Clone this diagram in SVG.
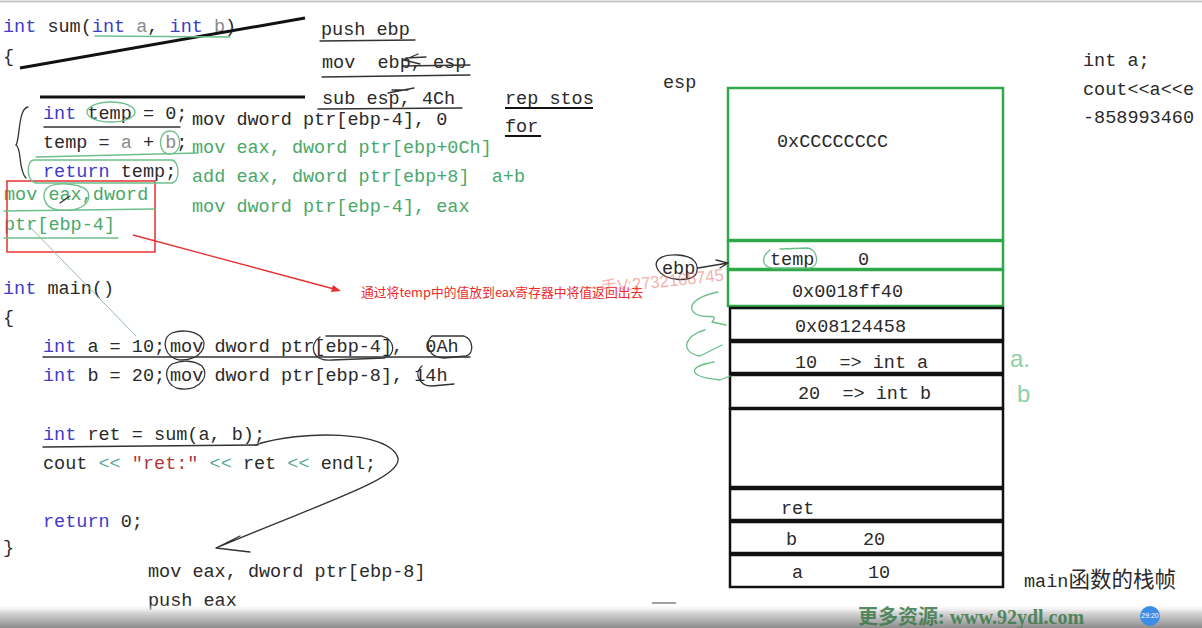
<svg xmlns="http://www.w3.org/2000/svg" width="1202" height="628" viewBox="0 0 1202 628" xml:space="preserve">
<defs>
<style>
text{white-space:pre}
.code{font-family:"Liberation Mono","DejaVu Sans Mono",monospace;font-size:18.5px;fill:#2a2a2a}
.kw{fill:#3c3cc8}
.gr{fill:#8a8a8a}
.asm{fill:#4aa86a}
.str{fill:#b03a3a}
.op{fill:#5aa89a}
.val{font-family:"Liberation Mono","DejaVu Sans Mono",monospace;font-size:18.5px;fill:#2a2a2a}
.gbox{fill:none;stroke:#2fa84a;stroke-width:2.5}
.bbox{fill:none;stroke:#111;stroke-width:2.5}
.hand{fill:none;stroke:#333;stroke-width:1.3;stroke-linecap:round}
.hg{fill:none;stroke:#6cbf8a;stroke-width:1.3;stroke-linecap:round}
.cn{font-family:"Noto Sans CJK SC","Noto Sans",sans-serif}
</style>
<linearGradient id="bar" x1="0" y1="0" x2="0" y2="1">
<stop offset="0" stop-color="#ffffff" stop-opacity="0"/>
<stop offset="0.35" stop-color="#d8d8d8"/>
<stop offset="1" stop-color="#8c8c8c"/>
</linearGradient>
</defs>
<rect x="0" y="0" width="1202" height="628" fill="#ffffff"/>
<line x1="0" y1="1.5" x2="1202" y2="1.5" stroke="#c8c8c8" stroke-width="2"/>

<!-- sum function -->
<g id="sum-code" class="code">
<text x="3" y="32"><tspan class="kw">int</tspan> sum(<tspan class="kw">int</tspan> <tspan class="gr">a</tspan>, <tspan class="kw">int</tspan> <tspan class="gr">b</tspan>)</text>
<text x="3" y="62">{</text>
<text x="43" y="119"><tspan class="kw">int</tspan> temp = 0;</text>
<text x="43" y="148">temp = <tspan class="gr">a</tspan> + <tspan class="gr">b</tspan>;</text>
<text x="43" y="177"><tspan class="kw">return</tspan> temp;</text>
<text x="192" y="125">mov dword ptr[ebp-4], 0</text>
<text x="192" y="153" class="asm">mov eax, dword ptr[ebp+0Ch]</text>
<text x="192" y="182" class="asm">add eax, dword ptr[ebp+8]  a+b</text>
<text x="192" y="212" class="asm">mov dword ptr[ebp-4], eax</text>
<text x="4" y="200" class="asm">mov eax,dword</text>
<text x="4" y="230" class="asm">ptr[ebp-4]</text>
</g>

<!-- prologue -->
<g id="prologue" class="code">
<text x="321" y="35">push ebp</text>
<text x="322" y="68">mov  ebp, esp</text>
<text x="322" y="104">sub esp, 4Ch</text>
<text x="505" y="104">rep stos</text>
<text x="505" y="132">for</text>
</g>

<!-- main function -->
<g id="main-code" class="code">
<text x="3" y="294"><tspan class="kw">int</tspan> main()</text>
<text x="3" y="323">{</text>
<text x="43" y="352"><tspan class="kw">int</tspan> a = 10;</text>
<text x="170" y="352">mov dword ptr[ebp-4],  0Ah</text>
<text x="43" y="381"><tspan class="kw">int</tspan> b = 20;</text>
<text x="170" y="381">mov dword ptr[ebp-8], 14h</text>
<text x="43" y="440"><tspan class="kw">int</tspan> ret = sum(a, b);</text>
<text x="43" y="469">cout <tspan class="op">&lt;&lt;</tspan> <tspan class="str">"ret:"</tspan> <tspan class="op">&lt;&lt;</tspan> ret <tspan class="op">&lt;&lt;</tspan> endl;</text>
<text x="43" y="527"><tspan class="kw">return</tspan> 0;</text>
<text x="3" y="553">}</text>
<text x="148" y="577">mov eax, dword ptr[ebp-8]</text>
<text x="148" y="606">push eax</text>
</g>

<!-- side note -->
<g id="side-note" class="code">
<text x="1083" y="66">int a;</text>
<text x="1083" y="95">cout&lt;&lt;a&lt;&lt;e</text>
<text x="1083" y="123">-858993460</text>
</g>

<!-- red annotation -->
<g id="red-note">
<rect x="7" y="181" width="148" height="71" fill="none" stroke="#e83030" stroke-width="1.5"/>
<text x="361" y="297" class="cn" font-size="12.8" fill="#ee2a2a">通过将temp中的值放到eax寄存器中将值返回出去</text>
</g>

<!-- stack frame -->
<g id="stack">
<text x="663" y="88" class="val">esp</text>
<g id="cell-cccc"><rect x="728" y="88" width="275" height="152" class="gbox"/><text x="777" y="147" class="val">0xCCCCCCCC</text></g>
<g id="cell-temp"><rect x="728" y="241" width="275" height="28" class="gbox"/><text x="770" y="265" class="val asm">temp</text><text x="858" y="265" class="val asm">0</text></g>
<g id="cell-ebp"><rect x="728" y="270" width="275" height="36" class="gbox"/><text x="792" y="297" class="val">0x0018ff40</text></g>
<g id="cell-ret-addr"><rect x="730" y="308" width="273" height="32" class="bbox"/><text x="795" y="332" class="val">0x08124458</text></g>
<g id="cell-a-param"><rect x="730" y="342" width="273" height="31" class="bbox"/><text x="795" y="368" class="val">10  =&gt; int a</text></g>
<g id="cell-b-param"><rect x="730" y="375" width="273" height="33" class="bbox"/><text x="798" y="399" class="val">20  =&gt; int b</text></g>
<g id="cell-empty"><rect x="730" y="409" width="273" height="78" class="bbox"/></g>
<g id="cell-ret"><rect x="730" y="489" width="273" height="31" class="bbox"/><text x="781" y="514" class="val">ret</text></g>
<g id="cell-b"><rect x="730" y="522" width="273" height="31" class="bbox"/><text x="786" y="545" class="val">b</text><text x="863" y="545" class="val">20</text></g>
<g id="cell-a"><rect x="730" y="555" width="273" height="32" class="bbox"/><text x="792" y="578" class="val">a</text><text x="868" y="578" class="val">10</text></g>
<text x="1024" y="587" class="cn" font-size="21.5" fill="#2a2a2a"><tspan font-family="Liberation Mono,monospace" font-size="18.5">main</tspan>函数的栈帧</text>
<text x="662" y="274" class="val">ebp</text>
<text x="1010" y="367" font-family="Liberation Sans,sans-serif" font-size="24" fill="#8fd0a4">a.</text>
<text x="1017" y="402" font-family="Liberation Sans,sans-serif" font-size="24" fill="#8fd0a4">b</text>
</g>

<!-- connectors and handwriting -->
<g id="connectors">
<line x1="20" y1="68" x2="305" y2="18" stroke="#111" stroke-width="3"/>
<line x1="40" y1="97" x2="305" y2="97" stroke="#111" stroke-width="3"/>
<line x1="505" y1="108" x2="593" y2="108" stroke="#111" stroke-width="2"/>
<line x1="505" y1="136" x2="541" y2="136" stroke="#111" stroke-width="2"/>
<path class="hand" d="M320,41 L415,40 M322,77 L470,75 M318,109 L462,108 M402,66 L470,65 M418,54 L404,60 L420,64 M406,58 L426,57 M392,90 L408,90 M388,93 L414,88"/>
<path class="hg" d="M95,36 L230,37"/>
<ellipse cx="111" cy="112" rx="24" ry="10" class="hg"/>
<path class="hand" d="M44,127 L180,127" stroke="#555"/>
<path class="hg" d="M164,133 C158,140 160,152 168,154 C178,155 182,145 178,136 C175,130 168,130 164,133"/>
<path class="hg" d="M36,157 L198,153"/>
<path class="hg" d="M34,160 C26,160 26,182 36,183 L172,183 C180,182 180,162 172,160 Z"/>
<path class="hand" stroke="#777" d="M28,107 C18,108 20,140 16,145 C22,148 18,170 26,178"/>
<path class="hg" d="M50,186 C40,190 42,208 58,210 C80,212 92,204 88,192 C84,184 60,182 50,186"/>
<path class="hand" stroke="#555" d="M60,203 L70,196"/>
<path class="hg" d="M4,211 L155,209 M4,238 L118,238"/>
<path d="M28,225 L136,336" stroke="#9ab8aa" stroke-width="1" fill="none"/>
<line x1="133" y1="235" x2="334" y2="289" stroke="#e83030" stroke-width="1.3"/>
<polygon points="341,291 331,292 333,285" fill="#e83030"/>
<path class="hand" d="M172,333 C160,338 164,360 182,360 C200,360 210,345 200,336 C192,330 180,330 172,333"/>
<path class="hand" d="M172,364 C162,370 166,388 182,389 C200,390 210,376 202,366 C194,360 182,360 172,364"/>
<path class="hand" d="M320,337 C308,345 312,362 332,360 L384,358 C396,356 396,340 382,336 L326,336"/>
<path class="hand" d="M432,336 C424,342 428,358 444,358 L466,356 C474,354 474,340 464,336 Z"/>
<path class="hand" d="M422,366 C414,372 418,386 432,386 L454,384"/>
<path class="hand" stroke="#666" d="M43,357 L470,357"/>
<path class="hand" stroke="#666" d="M43,447 L258,445"/>
<path class="hand" stroke="#555" d="M255,445 C300,430 390,430 398,458 C402,478 330,500 216,548 M216,548 L240,536 M216,548 L250,552"/>
<path class="hand" d="M658,270 C652,260 662,254 678,255 C694,256 700,264 696,274 C692,282 666,282 658,270 M698,268 L728,263 M716,260 L728,263 L720,268"/>
<path class="hg" d="M770,250 C762,256 760,266 772,268 L810,268 C820,266 818,250 808,248 L780,249"/>
<path class="hg" d="M718,292 C698,296 684,306 696,314 C706,320 720,312 712,322 M712,322 L726,325 M705,330 C686,334 678,352 700,356 M700,356 L722,345 M714,362 C690,366 684,376 720,380 M720,380 L730,376"/>
<g fill="#e46a5a" opacity="0.5">
<text x="584" y="288" font-family="Liberation Sans,Noto Sans CJK SC,sans-serif" font-size="17" textLength="140" lengthAdjust="spacingAndGlyphs" transform="rotate(-6 654 282)">一手V:2732168745</text>
</g>
</g>

<!-- bottom bar -->
<g id="player-bar">
<line x1="652" y1="603" x2="676" y2="603" stroke="#444" stroke-width="1"/>
<rect x="0" y="604" width="1202" height="24" fill="url(#bar)"/>
<text x="858" y="624" font-family="Liberation Serif,Noto Sans CJK SC,serif" font-weight="bold" font-size="20" fill="#3c7a4a" opacity="0.85">更多资源: www.92ydl.com</text>
<circle cx="1150" cy="616" r="10" fill="#3b8ee8"/>
<text x="1150" y="618" font-family="Liberation Sans,sans-serif" font-size="7" fill="#fff" text-anchor="middle">29:20</text>
</g>
</svg>
